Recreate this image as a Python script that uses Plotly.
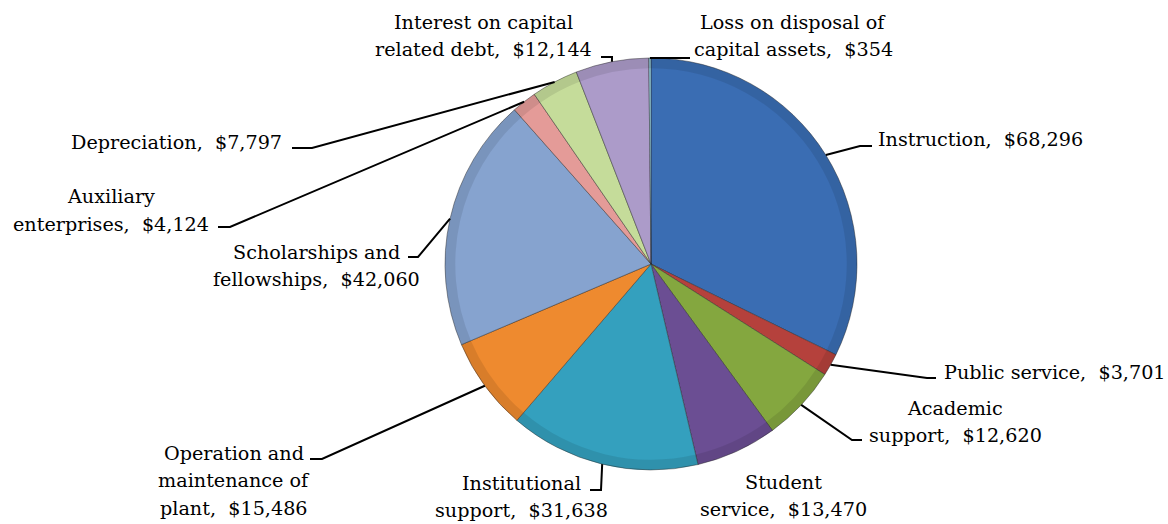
import math
import plotly.graph_objects as go

# ---- data ----
categories = [
    "Instruction", "Public service", "Academic support", "Student service",
    "Institutional support", "Operation and maintenance of plant",
    "Scholarships and fellowships", "Auxiliary enterprises", "Depreciation",
    "Interest on capital related debt", "Loss on disposal of capital assets",
]
values = [68296, 3701, 12620, 13470, 31638, 15486, 42060, 4124, 7797, 12144, 354]
# label line breaks as in the chart
label_lines = [
    ["Instruction,\u00a0 $68,296"],
    ["Public service,\u00a0 $3,701"],
    ["Academic", "support,\u00a0 $12,620"],
    ["Student", "service,\u00a0 $13,470"],
    ["Institutional", "support,\u00a0 $31,638"],
    ["Operation and", "maintenance of", "plant,\u00a0 $15,486"],
    ["Scholarships and", "fellowships,\u00a0 $42,060"],
    ["Auxiliary", "enterprises,\u00a0 $4,124"],
    ["Depreciation,\u00a0 $7,797"],
    ["Interest on capital", "related debt,\u00a0 $12,144"],
    ["Loss on disposal of", "capital assets,\u00a0 $354"],
]

# ---- style / layout ----
colors = ["#3A6DB3", "#B5413C", "#84A73F", "#6B4E93", "#34A0BE", "#EE8A2F",
          "#86A3CF", "#E49B98", "#C5DC9A", "#AC9BC9", "#93CDDD"]
W, H = 1168, 524
CX, CY, R = 651, 264, 206
FONT = dict(family="DejaVu Serif", size=19.2, color="#000000")
PITCH = 27.5
# label placement (pixels): (x, y of first line, anchor)
label_pos = [
    (876, 139, "left"), (942, 372, "left"), (955, 408, "center"),
    (783, 482, "center"), (521, 483, "center"), (234, 453, "center"),
    (316, 252, "center"), (111, 197, "center"), (284, 143, "right"),
    (483, 22, "center"), (793, 22, "center"),
]
# leader line elbow and tail end (pixels); None = no leader
leaders = [
    ((860, 146), (872, 146)), ((927, 378), (936, 378)), ((852, 440), (862, 440)),
    None, ((601, 490), (590, 490)), ((322, 459), (310, 459)),
    ((418, 257), (408, 257)), ((230, 227), (218, 227)), ((312, 148), (292, 148)),
    ((612, 57), (601, 57)), ((651, 58), (690, 58)),
]


def px(x):
    return x / W


def py(y):
    return 1 - y / H


domain = dict(x=[px(CX - R), px(CX + R)], y=[py(CY + R), py(CY - R)])
fig = go.Figure()
fig.add_trace(go.Pie(
    labels=categories, values=values, sort=False, direction="clockwise",
    rotation=0, textinfo="none", hoverinfo="label+value",
    marker=dict(colors=colors, line=dict(color="rgba(40,40,40,0.45)", width=1)),
    domain=domain, showlegend=False,
))
# soft darker rim to hint at the bevelled look
fig.add_trace(go.Pie(
    labels=categories, values=values, sort=False, direction="clockwise",
    rotation=0, textinfo="none", hoverinfo="skip", hole=0.95,
    marker=dict(colors=["rgba(0,0,0,0.09)"] * len(values),
                line=dict(color="rgba(40,40,40,0.45)", width=0)),
    domain=domain, showlegend=False,
))

total = sum(values)
shapes = []
annotations = []
cum = 0
for i, v in enumerate(values):
    mid = (cum + v / 2) / total * 2 * math.pi
    cum += v
    ax = CX + R * math.sin(mid)
    ay = CY - R * math.cos(mid)
    if leaders[i] is not None:
        (ex, ey), (tx, ty) = leaders[i]
        path = f"M {px(ax)},{py(ay)} L {px(ex)},{py(ey)} L {px(tx)},{py(ty)}"
        shapes.append(dict(type="path", xref="paper", yref="paper", path=path,
                           line=dict(color="black", width=2)))
    lx, ly, anc = label_pos[i]
    for j, line in enumerate(label_lines[i]):
        annotations.append(dict(
            x=px(lx), y=py(ly + j * PITCH), xref="paper", yref="paper",
            text=line, showarrow=False, xanchor=anc, yanchor="middle",
            font=FONT,
        ))

fig.update_layout(
    width=W, height=H, margin=dict(l=0, r=0, t=0, b=0),
    paper_bgcolor="white", plot_bgcolor="white",
    shapes=shapes, annotations=annotations,
)
fig.write_html("out.html", config={"displayModeBar": False},
               post_script="document.body.style.margin='0';")
